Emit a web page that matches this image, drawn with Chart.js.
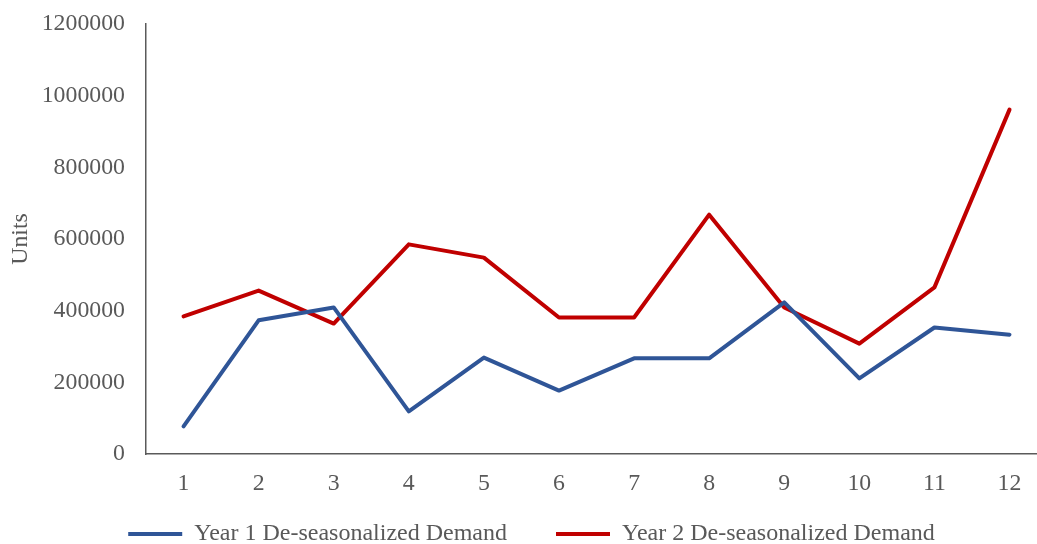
<!DOCTYPE html>
<html>
<head>
<meta charset="utf-8">
<script src="https://cdn.jsdelivr.net/npm/chart.js@4/dist/chart.umd.min.js"></script>
<style>
  html, body { margin: 0; padding: 0; background: #ffffff; }
  #wrap { width: 1037px; height: 544px; position: relative; }
</style>
</head>
<body>
<div id="wrap"><canvas id="c" width="1037" height="544"></canvas></div>
<script>
// Months of the year
const months = [1, 2, 3, 4, 5, 6, 7, 8, 9, 10, 11, 12];

// De-seasonalized demand, units per month
const year1Demand = [77000, 373000, 409000, 119000, 269000, 177000, 267000, 267000, 423000, 211000, 353000, 333000];
const year2Demand = [384000, 456000, 364000, 585000, 548000, 381000, 381000, 668000, 409000, 308000, 465000, 961000];

// Value axis ticks
const unitTicks = [0, 200000, 400000, 600000, 800000, 1000000, 1200000];

const seriesNames = ['Year 1 De-seasonalized Demand', 'Year 2 De-seasonalized Demand'];
const seriesColors = ['#2F5597', '#C00000'];

const textColor = '#595959';
const axisColor = '#5a5a5a';
const fontFamily = '"Liberation Serif", "Times New Roman", serif';
const tickFontSize = 23.8;
const legendFontSize = 24;

function toPoints(values) {
  return months.map((m, i) => ({ x: m, y: values[i] }));
}

function lineDataset(i, values) {
  return {
    label: seriesNames[i],
    data: toPoints(values),
    borderColor: seriesColors[i],
    backgroundColor: seriesColors[i],
    borderWidth: 4,
    pointRadius: 0,
    tension: 0,
    borderJoinStyle: 'round',
    borderCapStyle: 'round'
  };
}

new Chart(document.getElementById('c'), {
  type: 'line',
  data: {
    datasets: [lineDataset(0, year1Demand), lineDataset(1, year2Demand)]
  },
  options: {
    responsive: false,
    animation: false,
    devicePixelRatio: 1,
    layout: { padding: { left: 26, right: 0, top: 24, bottom: 0 } },
    plugins: {
      tooltip: { enabled: false },
      legend: {
        position: 'bottom',
        maxHeight: 71,
        labels: {
          usePointStyle: true,
          pointStyle: 'line',
          pointStyleWidth: 54,
          padding: 49,
          color: textColor,
          font: { family: fontFamily, size: legendFontSize }
        }
      }
    },
    scales: {
      x: {
        type: 'linear',
        min: 0.5,
        max: 12.366,
        grid: { display: false, drawTicks: false },
        border: { display: true, color: axisColor, width: 1.5 },
        afterBuildTicks: (scale) => { scale.ticks = months.map(v => ({ value: v })); },
        afterFit: (scale) => { scale.height = 19; },
        ticks: {
          // mirrored labels are not clipped to the thin axis box; the
          // negative padding places them below the axis line
          mirror: true,
          padding: -44.5,
          autoSkip: false,
          maxRotation: 0,
          color: textColor,
          font: { family: fontFamily, size: tickFontSize },
          callback: (v) => String(v)
        }
      },
      y: {
        type: 'linear',
        min: 0,
        max: 1200000,
        grid: { display: false, drawTicks: true, tickLength: 21 },
        border: { display: true, color: axisColor, width: 1.5 },
        afterBuildTicks: (scale) => { scale.ticks = unitTicks.map(v => ({ value: v })); },
        afterFit: (scale) => { scale.width = 120; },
        ticks: {
          padding: 0,
          color: textColor,
          font: { family: fontFamily, size: tickFontSize },
          callback: (v) => String(v)
        },
        title: {
          display: true,
          text: 'Units',
          color: textColor,
          padding: { top: -19.3, bottom: 0 },
          font: { family: fontFamily, size: tickFontSize }
        }
      }
    }
  }
});
</script>
</body>
</html>
